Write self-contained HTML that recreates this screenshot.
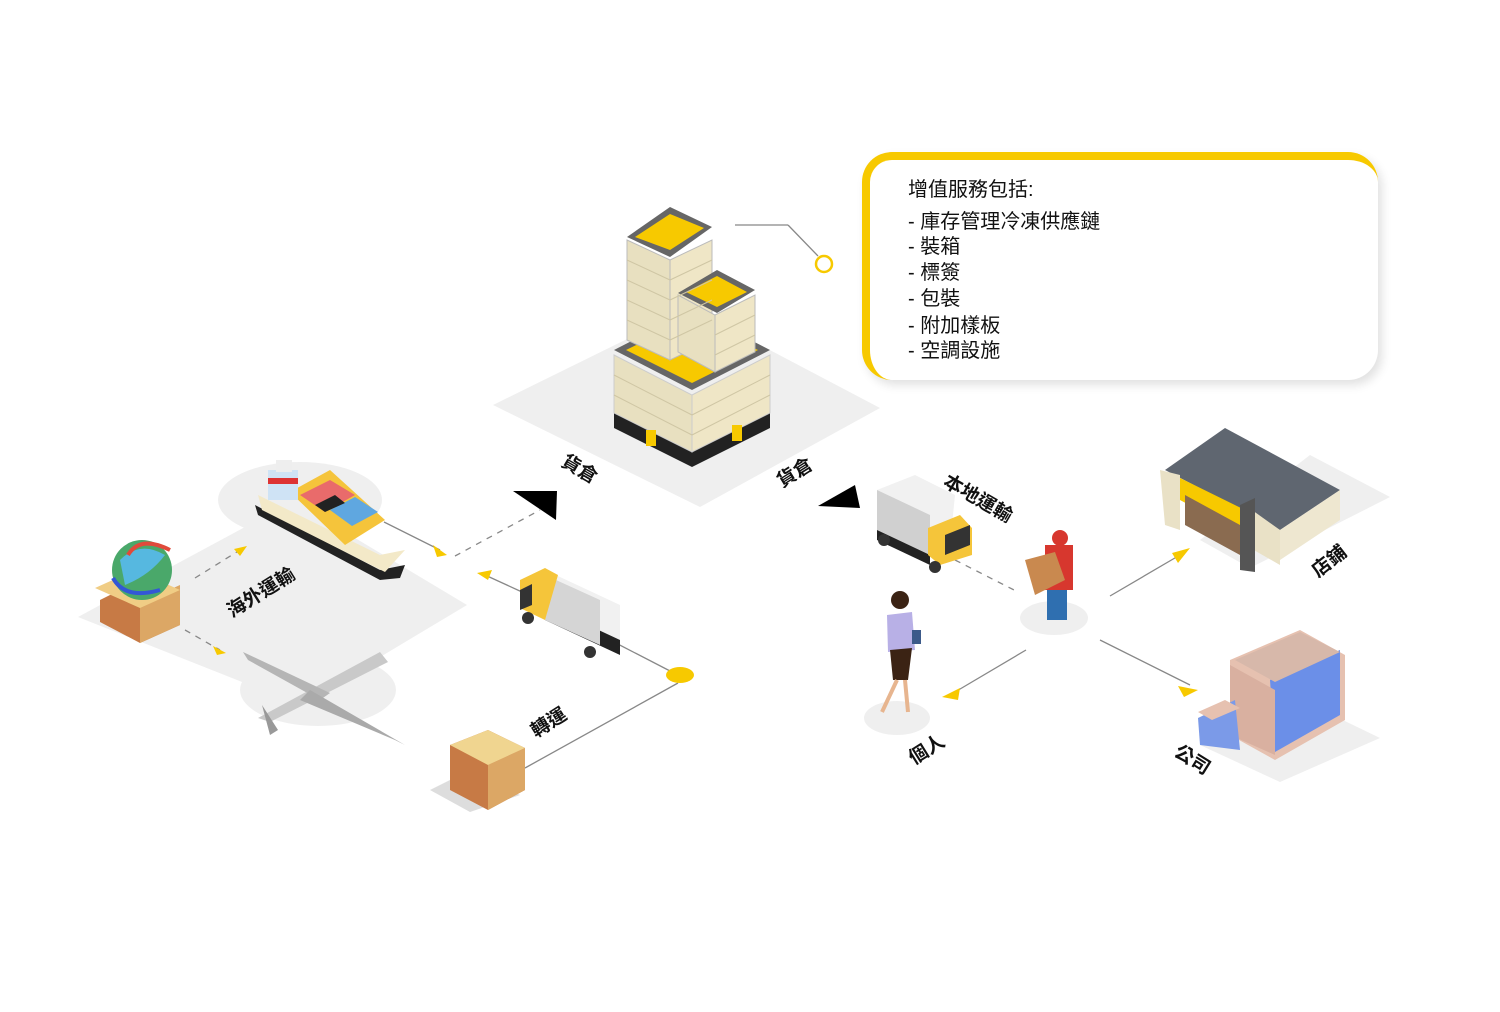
<!DOCTYPE html>
<html><head><meta charset="utf-8"><style>
html,body{margin:0;padding:0;background:#fff;}
svg{display:block;font-family:"Liberation Sans","Noto Sans CJK TC",sans-serif;}
.lbl{font-size:19px;font-weight:bold;fill:#111;}
.box{position:absolute;left:862px;top:152px;width:516px;height:228px;box-sizing:border-box;border-radius:30px;border-top:8px solid #f7c900;border-left:8px solid #f7c900;background:#fff;box-shadow:4px 5px 10px rgba(0,0,0,0.12);font-family:"Liberation Sans","Noto Sans CJK TC",sans-serif;color:#111;}
.box .t{position:absolute;left:38px;top:13px;font-size:20px;}
.box .i{position:absolute;left:38px;font-size:20px;line-height:24px;}
</style></head><body>
<div style="position:relative;width:1500px;height:1012px;overflow:hidden;">
<svg width="1500" height="1012" viewBox="0 0 1500 1012">
<polygon points="493,405 690,308 880,408 700,507" fill="#efefef"/>
<polygon points="78,617 245,527 300,505 467,605 300,705" fill="#efefef"/>
<ellipse cx="300" cy="500" rx="82" ry="38" fill="#efefef"/>
<ellipse cx="318" cy="690" rx="78" ry="36" fill="#efefef"/>
<ellipse cx="897" cy="718" rx="33" ry="17" fill="#efefef"/>
<ellipse cx="1054" cy="618" rx="34" ry="17" fill="#efefef"/>
<polygon points="1310,455 1390,497 1250,568 1200,540" fill="#efefef"/>
<polygon points="1260,680 1380,738 1280,782 1200,745" fill="#efefef"/>
<polygon points="430,790 470,770 520,795 470,812" fill="#ddd"/>
<g stroke="#888" stroke-width="1.3" fill="none">
<line x1="735" y1="225" x2="788" y2="225"/><line x1="788" y1="225" x2="818" y2="256"/>
<line x1="384" y1="522" x2="440" y2="550"/>
<line x1="455" y1="556" x2="540" y2="510" stroke-dasharray="6,6"/>
<line x1="485" y1="575" x2="522" y2="592"/>
<line x1="610" y1="640" x2="672" y2="672"/>
<line x1="525" y1="768" x2="678" y2="683"/>
<line x1="195" y1="578" x2="240" y2="550" stroke-dasharray="6,6"/>
<line x1="185" y1="630" x2="220" y2="650" stroke-dasharray="6,6"/>
<line x1="955" y1="560" x2="1018" y2="592" stroke-dasharray="6,6"/>
<line x1="1026" y1="650" x2="955" y2="692"/>
<line x1="1110" y1="596" x2="1180" y2="555"/>
<line x1="1100" y1="640" x2="1190" y2="685"/>
</g>
<circle cx="824" cy="264" r="8" fill="#fff" stroke="#f7c900" stroke-width="2.5"/>
<ellipse cx="680" cy="675" rx="14" ry="8" fill="#f7c900"/>
<g fill="#f7c900">
<polygon points="447,555 433,545 437,557"/>
<polygon points="477,573 492,570 488,580"/>
<polygon points="247,546 234,549 240,556"/>
<polygon points="226,653 213,646 217,655"/>
<polygon points="942,697 960,688 958,700"/>
<polygon points="1190,548 1172,553 1178,563"/>
<polygon points="1198,690 1178,686 1184,697"/>
</g>
<polygon points="513,491 557,491 556,520" fill="#000"/>
<polygon points="818,506 855,485 860,508" fill="#000"/>
<polygon points="614,413 692,452 770,413 770,428 692,467 614,428" fill="#222"/>
<polygon points="614,355 692,395 692,452 614,413" fill="#e8e0c0" stroke="#ccc" />
<polygon points="692,395 770,355 770,413 692,452" fill="#efe6c6" stroke="#ccc"/>
<polygon points="614,350 692,310 770,350 692,390" fill="#666"/>
<polygon points="626,350 692,318 758,350 692,383" fill="#f7c900"/>
<polygon points="627,240 670,260 670,360 627,340" fill="#e8e0c0" stroke="#bbb"/>
<polygon points="670,260 712,240 712,340 670,360" fill="#efe6c6" stroke="#bbb"/>
<polygon points="627,237 670,207 712,227 670,257" fill="#666"/>
<polygon points="635,237 670,214 704,228 670,250" fill="#f7c900"/>
<polygon points="678,295 715,315 715,372 678,352" fill="#e8e0c0" stroke="#bbb"/>
<polygon points="715,315 755,295 755,352 715,372" fill="#efe6c6" stroke="#bbb"/>
<polygon points="678,293 717,270 755,290 717,313" fill="#666"/>
<polygon points="686,292 717,276 747,292 717,307" fill="#f7c900"/>
<g stroke="#cfc6a4" stroke-width="1">
<path d="M627,260 L670,280 M627,280 L670,300 M627,300 L670,320 M627,320 L670,340 M712,260 L670,280 M712,280 L670,300 M712,300 L670,320 M712,320 L670,340 M614,375 L692,415 M614,395 L692,435 M770,375 L692,415 M770,395 L692,435 M755,315 L715,335 M755,335 L715,355"/>
</g>
<rect x="646" y="430" width="10" height="16" fill="#f7c900"/><rect x="732" y="425" width="10" height="16" fill="#f7c900"/>
<polygon points="255,505 380,570 405,565 400,578 380,580 258,515" fill="#222"/>
<polygon points="258,495 380,555 405,550 385,572 262,510" fill="#f3e9c8"/>
<polygon points="290,492 330,470 385,520 345,545" fill="#f5c43b"/>
<polygon points="300,495 330,480 355,495 325,512" fill="#e96b6b"/>
<polygon points="330,510 355,497 378,512 352,526" fill="#5fa7e0"/>
<polygon points="315,505 335,495 345,503 325,512" fill="#222"/>
<rect x="268" y="470" width="30" height="30" fill="#cfe3f5"/><rect x="268" y="478" width="30" height="6" fill="#d33"/>
<rect x="276" y="460" width="16" height="12" fill="#eee"/>
<polygon points="100,600 140,580 180,600 180,625 140,643 100,622" fill="#c77a45"/>
<polygon points="140,603 180,585 180,625 140,643" fill="#dca765"/>
<polygon points="95,588 135,570 180,590 140,608" fill="#f0cd85"/>
<circle cx="142" cy="570" r="30" fill="#4aa86a"/>
<path d="M120,560 Q140,540 165,555 Q150,575 125,585Z" fill="#56b8e0"/>
<path d="M113,578 Q125,600 160,590" stroke="#3357d6" stroke-width="4" fill="none"/>
<path d="M128,555 Q140,535 170,550" stroke="#e04a3b" stroke-width="4" fill="none"/>
<polygon points="258,718 380,652 388,662 270,722" fill="#c9c9c9"/>
<polygon points="243,652 330,693 320,700 248,660" fill="#b5b5b5"/>
<polygon points="310,690 405,745 395,740 300,700" fill="#aaa"/>
<polygon points="262,705 270,735 278,730" fill="#999"/>
<polygon points="545,570 620,605 620,640 545,605" fill="#f1f1f1"/>
<polygon points="545,605 620,640 620,655 545,620" fill="#222"/>
<polygon points="545,575 600,600 600,645 545,620" fill="#d5d5d5"/>
<polygon points="520,580 545,568 558,575 545,620 520,608" fill="#f5c53a"/>
<polygon points="520,590 532,584 532,605 520,610" fill="#333"/>
<circle cx="528" cy="618" r="6" fill="#333"/><circle cx="590" cy="652" r="6" fill="#333"/>
<polygon points="877,490 915,475 955,495 950,545 877,515" fill="#f1f1f1"/>
<polygon points="877,490 930,515 930,555 877,530" fill="#d0d0d0"/>
<polygon points="877,530 930,555 930,565 877,540" fill="#222"/>
<polygon points="928,528 960,515 972,528 972,555 940,565 928,555" fill="#f5c53a"/>
<polygon points="945,535 970,525 970,545 945,555" fill="#333"/>
<circle cx="884" cy="540" r="6" fill="#333"/><circle cx="935" cy="567" r="6" fill="#333"/>
<polygon points="450,745 488,730 525,748 525,790 488,810 450,790" fill="#c77a45"/>
<polygon points="488,765 525,748 525,790 488,810" fill="#dca765"/>
<polygon points="450,745 488,730 525,748 488,765" fill="#f0d590"/>
<circle cx="900" cy="600" r="9" fill="#3b2314"/>
<polygon points="887,615 912,612 915,650 888,652" fill="#b8b0e6"/>
<polygon points="890,650 912,648 908,680 893,680" fill="#3b2314"/>
<line x1="897" y1="680" x2="882" y2="712" stroke="#e7b58f" stroke-width="4"/><line x1="905" y1="680" x2="908" y2="712" stroke="#e7b58f" stroke-width="4"/>
<rect x="912" y="630" width="9" height="14" fill="#3c5a8a"/>
<circle cx="1060" cy="538" r="8" fill="#d7372e"/>
<rect x="1045" y="545" width="28" height="45" fill="#d7372e"/>
<polygon points="1025,560 1055,552 1065,580 1035,595" fill="#c9894f"/>
<rect x="1047" y="590" width="20" height="30" fill="#2f6fb0"/>
<polygon points="1165,470 1225,428 1340,490 1280,530" fill="#5f6670"/>
<polygon points="1280,530 1340,490 1340,520 1280,560" fill="#eee7d0"/>
<polygon points="1245,505 1280,530 1280,565 1245,545" fill="#e9e1c6"/>
<polygon points="1160,470 1180,475 1180,530 1165,525" fill="#e9e1c6"/>
<polygon points="1180,478 1245,510 1245,535 1180,500" fill="#f7c900"/>
<polygon points="1240,505 1255,498 1255,572 1240,570" fill="#555"/>
<polygon points="1185,495 1240,525 1240,555 1185,525" fill="#8a6b50"/>
<polygon points="1230,660 1300,630 1345,655 1345,720 1275,760 1230,735" fill="#e6c1b0"/>
<polygon points="1270,680 1340,650 1340,715 1275,752" fill="#6b8fe8"/>
<polygon points="1230,665 1275,690 1275,755 1230,735" fill="#d9b0a0"/>
<polygon points="1235,660 1300,632 1340,652 1275,682" fill="#d7b8aa"/>
<polygon points="1198,718 1235,700 1240,750 1200,745" fill="#7b9ae8"/>
<polygon points="1198,712 1225,700 1240,708 1212,720" fill="#e6c1b0"/>
<text class="lbl" transform="translate(560,465) rotate(30)">貨倉</text>
<text class="lbl" transform="translate(782,488) rotate(-32)">貨倉</text>
<text class="lbl" transform="translate(942,485) rotate(30)">本地運輸</text>
<text class="lbl" transform="translate(232,618) rotate(-32)">海外運輸</text>
<text class="lbl" transform="translate(536,738) rotate(-32)">轉運</text>
<text class="lbl" transform="translate(1318,578) rotate(-38)">店鋪</text>
<text class="lbl" transform="translate(914,765) rotate(-32)">個人</text>
<text class="lbl" transform="translate(1173,755) rotate(32)">公司</text>
</svg>
<div class="box">
<div class="t">增值服務包括:</div>
<div class="i" style="top:50px">- 庫存管理冷凍供應鏈</div>
<div class="i" style="top:75px">- 裝箱</div>
<div class="i" style="top:101px">- 標簽</div>
<div class="i" style="top:127px">- 包裝</div>
<div class="i" style="top:154px">- 附加樣板</div>
<div class="i" style="top:179px">- 空調設施</div>
</div>
</div>
</body></html>
